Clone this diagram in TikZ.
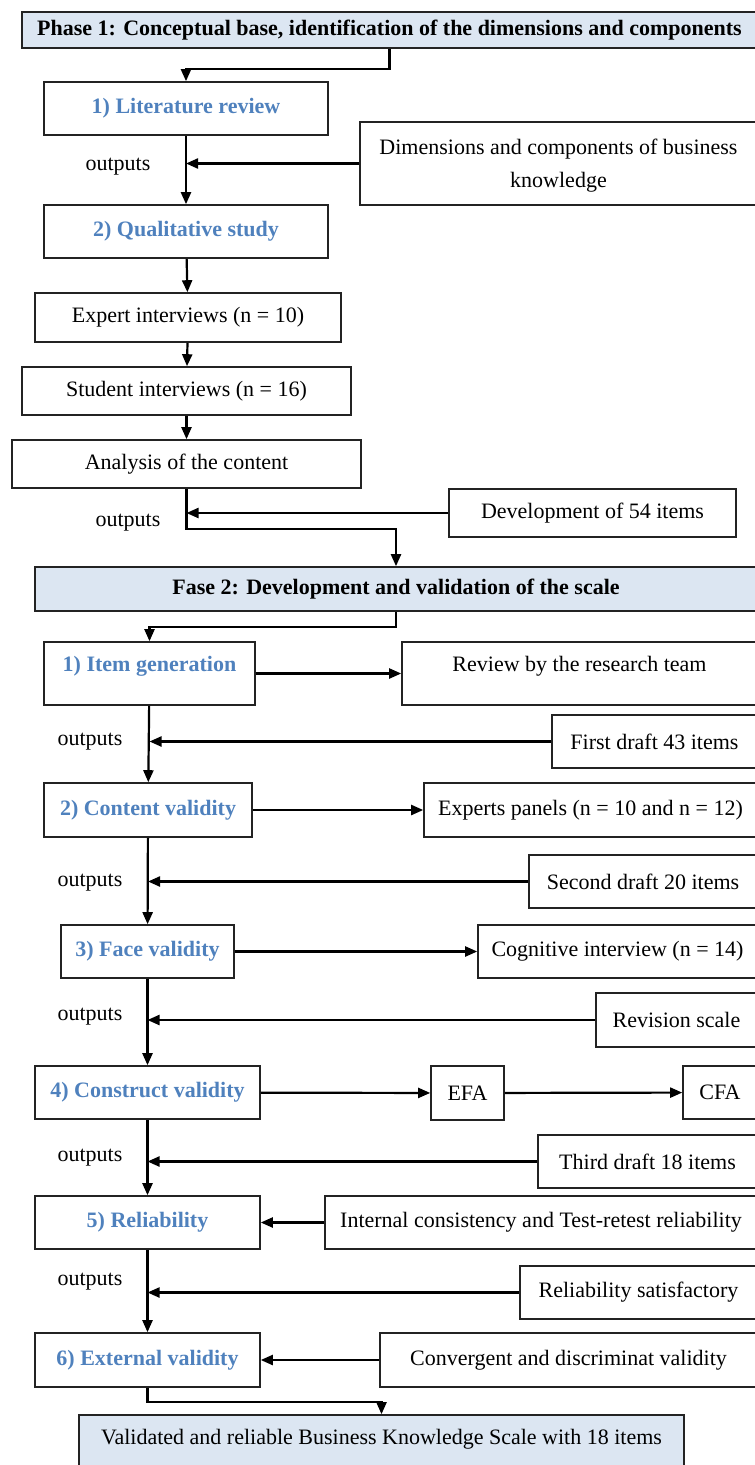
\documentclass[tikz,border=0pt]{standalone}
\usepackage{fontspec}
\setmainfont{Liberation Serif}
\usetikzlibrary{arrows.meta, positioning, calc}
\definecolor{phasefill}{RGB}{220,230,242}
\definecolor{stepblue}{RGB}{79,129,189}
\definecolor{framegray}{RGB}{35,35,35}

\begin{document}
\begin{tikzpicture}[
    x=1pt, y=-1pt,
    size/.style 2 args={minimum width=#1, minimum height=#2},
    phase/.style={rectangle, draw=framegray, fill=phasefill, line width=1.6pt, inner sep=0pt, font=\fontsize{22}{26}\selectfont\bfseries},
    stage/.style={rectangle, draw=framegray, line width=1.6pt, inner sep=0pt, text=stepblue, font=\fontsize{22}{26}\selectfont\bfseries},
    plain/.style={rectangle, draw=framegray, line width=1.6pt, inner sep=0pt, align=center, font=\fontsize{22}{33}\selectfont},
    note/.style={inner sep=0pt, font=\fontsize{22}{26}\selectfont},
    flow/.style={-{Triangle[length=12pt, width=10pt]}, line width=2.2pt},
]
    \useasboundingbox (0,0) rectangle (755,1465);
    \clip (0,0) rectangle (755,1465);

    % Phase 1
    \node[phase, size={735}{36}] (ph1) at (389.5,30) {Phase 1: Conceptual base, identification of the dimensions and components};
    \node[stage, size={284}{53}] (lit) at (186,108.5) {1) Literature review};
    \node[plain, size={397}{83}, text depth=0pt] (dims) at (558.5,163.5) {Dimensions and components of business\\knowledge};
    \node[stage, size={284}{53}] (qual) at (186,231.5) {2) Qualitative study};
    \node[plain, size={306}{49}] (expert) at (188,317.5) {Expert interviews (n = 10)};
    \node[plain, size={329}{48}] (student) at (186.5,391) {Student interviews (n = 16)};
    \node[plain, size={349}{48}] (analysis) at (186.5,464) {Analysis of the content};
    \node[plain, size={287}{48}] (dev) at (592.5,513) {Development of 54 items};
    \node[note] (out1) at (118,167) {outputs};
    \node[note] (out2) at (128,523) {outputs};

    % Phase 2
    \node[phase, size={722}{44}] (ph2) at (396,589) {Fase 2: Development and validation of the scale};
    \node[stage, size={211}{63}, text depth=20pt] (item) at (149.5,673.5) {1) Item generation};
    \node[plain, size={355}{63}, text depth=20pt] (review) at (579.5,673.5) {Review by the research team};
    \node[plain, size={205}{53}] (draft1) at (654.5,741.5) {First draft 43 items};
    \node[stage, size={208}{54}] (content) at (148,810) {2) Content validity};
    \node[plain, size={333}{54}] (experts) at (590.5,810) {Experts panels (n = 10 and n = 12)};
    \node[plain, size={228}{53}] (draft2) at (643,881.5) {Second draft 20 items};
    \node[stage, size={173}{53}] (face) at (147.5,951.5) {3) Face validity};
    \node[plain, size={279}{53}] (cogn) at (617.5,951.5) {Cognitive interview (n = 14)};
    \node[plain, size={161}{54}] (revision) at (676.5,1020) {Revision scale};
    \node[stage, size={225}{53}] (construct) at (147.5,1092.5) {4) Construct validity};
    \node[plain, size={73}{54}] (efa) at (467.5,1093) {EFA};
    \node[plain, size={74}{53}] (cfa) at (720,1092.5) {CFA};
    \node[plain, size={219}{53}] (draft3) at (647.5,1161.5) {Third draft 18 items};
    \node[stage, size={225}{53}] (reliab) at (147.5,1222.5) {5) Reliability};
    \node[plain, size={432}{53}] (internal) at (541,1222.5) {Internal consistency and Test-retest reliability};
    \node[plain, size={237}{53}] (relsat) at (638.5,1292.5) {Reliability satisfactory};
    \node[stage, size={225}{54}] (external) at (147.5,1360) {6) External validity};
    \node[plain, size={377}{54}] (converg) at (568.5,1360) {Convergent and discriminat validity};
    \node[phase, size={605}{54}, font=\fontsize{22}{26}\selectfont, text depth=11pt] (final) at (381.5,1442) {Validated and reliable Business Knowledge Scale with 18 items};

    \node[note] (out3) at (90,742) {outputs};
    \node[note] (out4) at (90,883) {outputs};
    \node[note] (out5) at (90,1017) {outputs};
    \node[note] (out6) at (90,1158) {outputs};
    \node[note] (out7) at (90,1282) {outputs};

    % Main flow, phase 1
    \draw[flow] (ph1.south) -- ++(0,20) -| (lit.north);
    \draw[flow] (lit) -- (qual);
    \draw[flow] (qual) -- (expert);
    \draw[flow] (expert) -- (student);
    \draw[flow] (student) -- (analysis);
    \draw[flow] (analysis.south) -- ++(0,40) -| (ph2.north);

    % Main flow, phase 2
    \draw[flow] (ph2.south) -- ++(0,15) -| (item.north);
    \draw[flow] (item) -- (content);
    \draw[flow] (content) -- (face);
    \draw[flow] (face) -- (construct);
    \draw[flow] (construct) -- (reliab);
    \draw[flow] (reliab) -- (external);
    \draw[flow] (external.south) -- ++(0,14) -| (final.north);

    % Side branches
    \draw[flow] (item) -- (review);
    \draw[flow] (content) -- (experts);
    \draw[flow] (face) -- (cogn);
    \draw[flow] (construct) -- (efa);
    \draw[flow] (efa) -- (cfa);
    \draw[flow] (internal) -- (reliab);
    \draw[flow] (converg) -- (external);

    % Outputs joining the main flow
    \draw[flow] (dims.west) -- (dims.west -| lit.south);
    \draw[flow] (dev.west) -- (dev.west -| analysis.south);
    \draw[flow] (draft1.west) -- (draft1.west -| item.south);
    \draw[flow] (draft2.west) -- (draft2.west -| content.south);
    \draw[flow] (revision.west) -- (revision.west -| face.south);
    \draw[flow] (draft3.west) -- (draft3.west -| construct.south);
    \draw[flow] (relsat.west) -- (relsat.west -| reliab.south);

\end{tikzpicture}
\end{document}
